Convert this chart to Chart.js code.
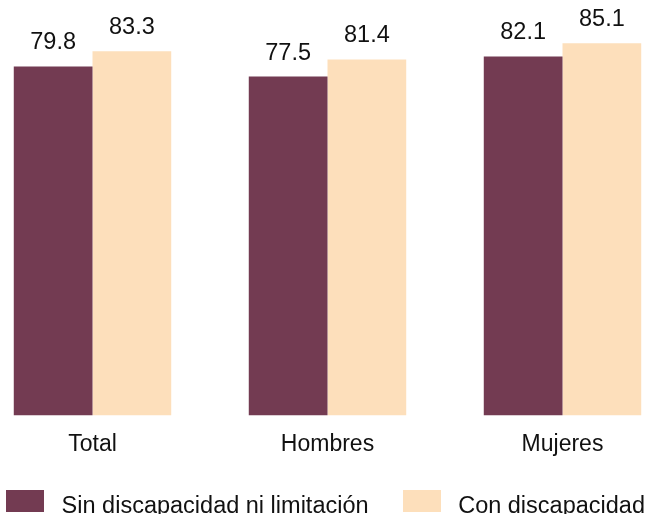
<!DOCTYPE html>
<html>
<head>
<meta charset="utf-8">
<script src="https://cdn.jsdelivr.net/npm/chart.js@4/dist/chart.umd.min.js"></script>
<style>
  html, body { margin: 0; padding: 0; background: #fff; overflow: hidden; }
  body { width: 651px; height: 514px; position: relative; font-family: "Liberation Sans", Arial, sans-serif; }
  #wrap { position: absolute; left: -25.5px; top: 0; width: 705px; height: 514px; }
  #legend { position: absolute; left: 0; top: 490px; width: 651px; display: flex; justify-content: center; gap: 34px; font-size: 23.5px; color: #111; }
  .item { display: flex; align-items: flex-start; }
  .box { width: 38px; height: 22px; margin-right: 17.6px; }
  .txt { line-height: 22px; position: relative; top: 4px; white-space: nowrap; }
</style>
</head>
<body>
<div id="wrap"><canvas id="chart" width="705" height="514"></canvas></div>
<div id="legend"></div>
<script>
// categories and series
const categories = ['Total', 'Hombres', 'Mujeres'];
const sinDiscapacidad = [79.8, 77.5, 82.1];
const conDiscapacidad = [83.3, 81.4, 85.1];
const seriesNames = ['Sin discapacidad ni limitación', 'Con discapacidad'];
const seriesColors = ['#733B52', '#FDDFBB'];

const FONT = '"Liberation Sans", Arial, sans-serif';

// values above bars
const valueLabels = {
    id: 'valueLabels',
    afterDatasetsDraw(chart) {
        const { ctx } = chart;
        ctx.save();
        ctx.font = '23.5px ' + FONT;
        ctx.fillStyle = '#111';
        ctx.textAlign = 'center';
        ctx.textBaseline = 'alphabetic';
        chart.data.datasets.forEach((ds, i) => {
            const meta = chart.getDatasetMeta(i);
            meta.data.forEach((bar, j) => {
                ctx.fillText(ds.data[j].toFixed(1), bar.x, bar.y - 17);
            });
        });
        ctx.restore();
    }
};

const ctx = document.getElementById('chart').getContext('2d');
const chart = new Chart(ctx, {
    type: 'bar',
    data: {
        labels: categories,
        datasets: [
            { label: seriesNames[0], data: sinDiscapacidad, backgroundColor: seriesColors[0] },
            { label: seriesNames[1], data: conDiscapacidad, backgroundColor: seriesColors[1] }
        ]
    },
    options: {
        responsive: false,
        animation: false,
        events: [],
        datasets: { bar: { categoryPercentage: 0.67, barPercentage: 1.0, borderWidth: 0 } },
        layout: { padding: { top: 0, left: 0, right: 0, bottom: 49 } },
        plugins: { legend: { display: false }, tooltip: { enabled: false } },
        scales: {
            x: {
                grid: { display: false },
                border: { display: false },
                ticks: { color: '#111', padding: 7, font: { family: FONT, size: 23 } }
            },
            y: { display: false, min: 0, max: 95 }
        }
    },
    plugins: [valueLabels]
});

// legend as html
const legend = document.getElementById('legend');
legend.innerHTML = seriesNames.map((n, i) =>
    `<div class="item"><span class="box" style="background:${seriesColors[i]}"></span><span class="txt">${n}</span></div>`
).join('');
</script>
</body>
</html>
